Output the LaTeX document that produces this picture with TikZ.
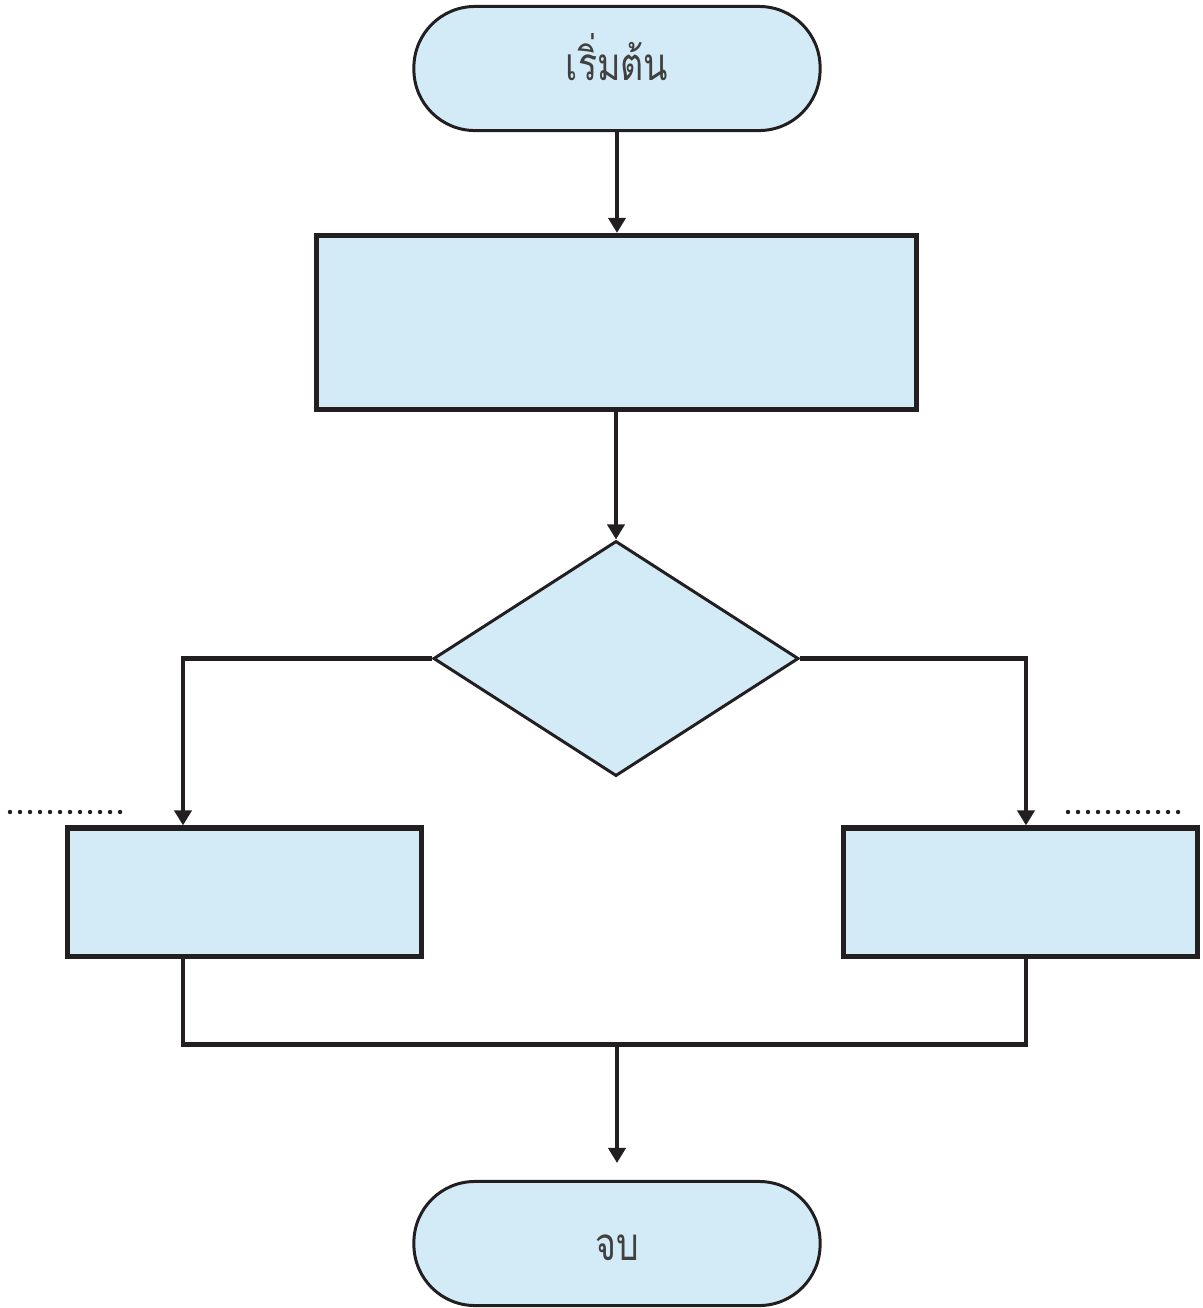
\documentclass[tikz,border=0pt]{standalone}
\usepackage{fontspec}
\newfontfamily\thaifont[Script=Thai,FakeStretch=0.78]{Loma}
\usetikzlibrary{shapes.geometric,arrows.meta}
\definecolor{boxfill}{HTML}{D3EBF7}
\definecolor{ink}{HTML}{231F20}
\definecolor{txt}{HTML}{404040}
\tikzset{
  term/.style={draw=ink,fill=boxfill,line width=0.85pt,rounded corners=0.61cm,
    minimum width=4.06cm,minimum height=1.24cm,inner sep=0pt,
    font=\thaifont\fontsize{13}{15}\selectfont,text=txt},
  procbox/.style={draw=ink,fill=boxfill,line width=1.45pt,inner sep=0pt},
  decbox/.style={draw=ink,fill=boxfill,line width=0.85pt,diamond,inner sep=0pt,
    minimum width=3.65cm,minimum height=2.35cm},
  conn/.style={draw=ink,line width=1.15pt},
  arr/.style={conn,-{Triangle[length=0.15cm,width=0.17cm]}},
  dots/.style={draw=ink,line width=1.25pt,line cap=round,dash pattern=on 0pt off 0.1cm}
}
\begin{document}
\begin{tikzpicture}[x=0.01cm,y=-0.01cm]
\useasboundingbox (0,0) rectangle (1203,1308);
\node[term,text height=0.3cm,text depth=0.07cm] (start) at (617,68.5) {เริ่มต้น};
\node[procbox,minimum width=6.0cm,minimum height=1.74cm] (proc) at (616.5,322.5) {};
\node[decbox] (dec) at (616,658.5) {};
\node[procbox,minimum width=3.54cm,minimum height=1.28cm] (lbox) at (244.5,892) {};
\node[procbox,minimum width=3.54cm,minimum height=1.28cm] (rbox) at (1020.5,892) {};
\node[term,text height=0.4cm,text depth=0.07cm] (end) at (617,1243.5) {จบ};
\coordinate (lx) at (183,0);
\coordinate (rx) at (1026,0);
\coordinate (mrg) at (617,1044.5);
\coordinate (ld1) at (10,812);
\coordinate (ld2) at (121,812);
\coordinate (rd1) at (1068,812);
\coordinate (rd2) at (1179,812);
\draw[arr] (start.south) -- (proc.north -| start.south);
\draw[arr] (proc.south -| dec.north) -- (dec.north);
\draw[arr] (dec.west) -| (lbox.north -| lx);
\draw[arr] (dec.east) -| (rbox.north -| rx);
\draw[conn] (lbox.south -| lx) |- (mrg) -| (rbox.south -| rx);
\draw[arr,shorten >=0.17cm] (mrg) -- (end.north);
\draw[dots] (ld1) -- (ld2);
\draw[dots] (rd1) -- (rd2);
\end{tikzpicture}
\end{document}
